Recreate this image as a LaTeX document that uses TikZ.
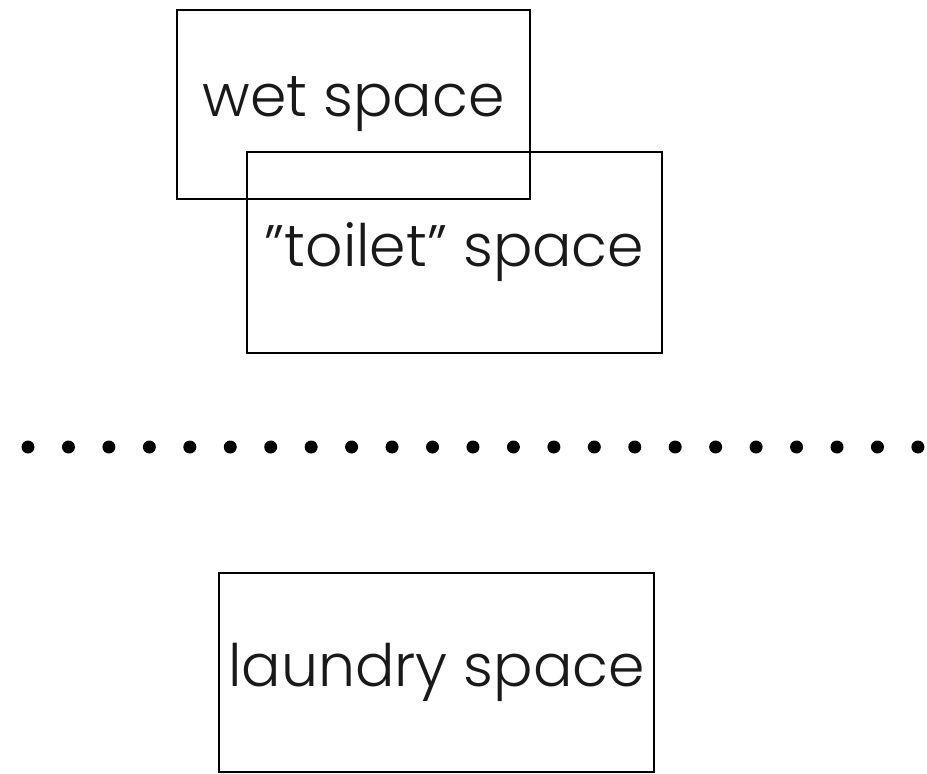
\documentclass[tikz,border=0pt]{standalone}
\usepackage{fontspec}
\setmainfont{Poppins Light}
\begin{document}
\begin{tikzpicture}[x=1pt,y=-1pt,
  spacebox/.style={draw=black,line width=1.1pt,rectangle,inner sep=0pt,font=\fontsize{58.5}{62}\selectfont,text=black!90},
  sep dot/.style={fill=black,circle,inner sep=0pt,minimum size=13pt}]
\useasboundingbox (0,0) rectangle (927,774);
\node[spacebox,minimum width=353pt,minimum height=189pt] (wet) at (353.5,104.5) {wet space};
\node[spacebox,minimum width=415pt,minimum height=201pt] (toilet) at (454.5,252.5) {”toilet” space};
\node[spacebox,minimum width=435pt,minimum height=199pt] (laundry) at (436.5,672.5) {laundry space};
\foreach \i in {0,...,22}{
  \node[sep dot] (d\i) at ({28+\i*40.45},447) {};
}
\end{tikzpicture}
\end{document}
